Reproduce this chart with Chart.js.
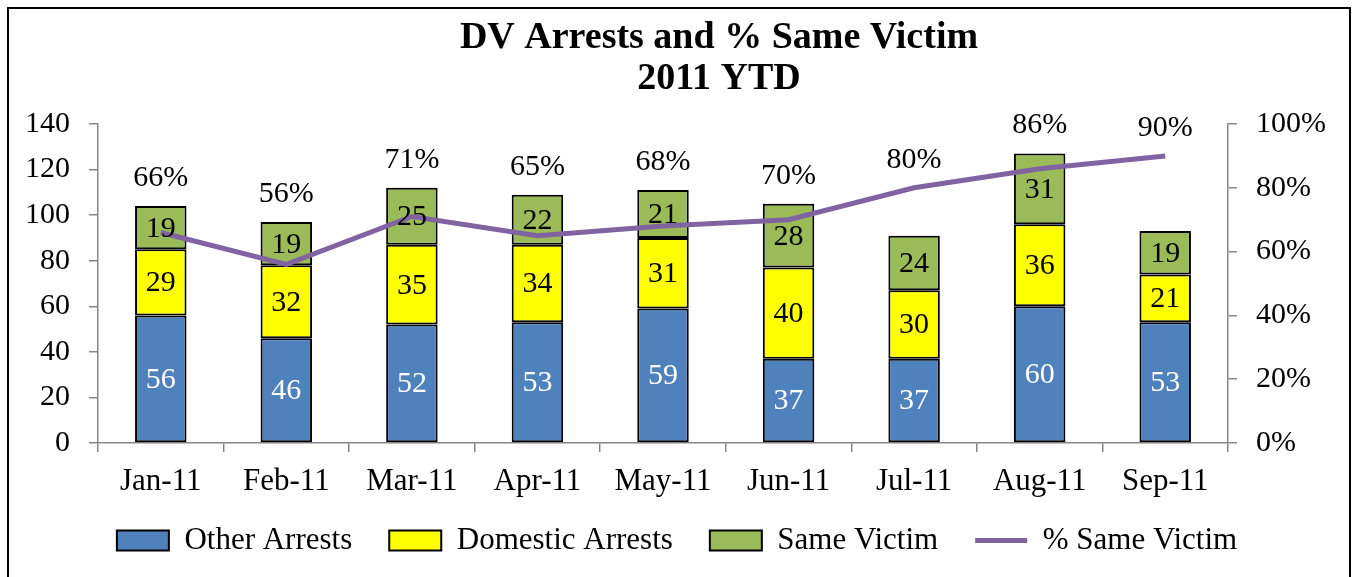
<!DOCTYPE html>
<html>
<head>
<meta charset="utf-8">
<script src="https://cdn.jsdelivr.net/npm/chart.js@4.4.1/dist/chart.umd.min.js"></script>
<style>
  html, body { margin: 0; padding: 0; background: #fff; }
  #frame { position: absolute; left: 7px; top: 7px; width: 1344px; height: 580px; box-sizing: border-box; border: 2px solid #000; }
  #c { position: absolute; left: 0; top: 0; }
</style>
</head>
<body>
<div id="frame"></div>
<canvas id="c" width="1354" height="577"></canvas>
<script>
const months = ['Jan-11', 'Feb-11', 'Mar-11', 'Apr-11', 'May-11', 'Jun-11', 'Jul-11', 'Aug-11', 'Sep-11']
const otherArrests = [56, 46, 52, 53, 59, 37, 37, 60, 53]
const domesticArrests = [29, 32, 35, 34, 31, 40, 30, 36, 21]
const sameVictim = [19, 19, 25, 22, 21, 28, 24, 31, 19]
const pctSameVictim = [0.66, 0.56, 0.71, 0.65, 0.68, 0.70, 0.80, 0.86, 0.90]
const titleLines = ['DV Arrests and % Same Victim', '2011 YTD']

const serif = "'Liberation Serif', 'Times New Roman', serif"
const gray = '#868686'

// numbers inside each bar segment, the % labels over each column, and the title
const labelPlugin = {
  id: 'labels',
  afterLayout(chart) {
    // x axis box is kept short so the legend sits high; let its labels draw below it
    chart.scales.x.bottom += 25
  },
  afterDatasetsDraw(chart) {
    const ctx = chart.ctx
    ctx.save()
    ctx.font = '30px ' + serif
    ctx.textAlign = 'center'
    ctx.textBaseline = 'middle'
    const tops = []
    for (let d = 0; d < 3; d++) {
      const meta = chart.getDatasetMeta(d)
      meta.data.forEach((bar, i) => {
        ctx.fillStyle = d === 0 ? '#fff' : '#000'
        ctx.fillText(chart.data.datasets[d].data[i], bar.x, (bar.y + bar.base) / 2 + 1)
        tops[i] = tops[i] === undefined ? bar.y : Math.min(tops[i], bar.y)
      })
    }
    const line = chart.getDatasetMeta(3)
    ctx.fillStyle = '#000'
    line.data.forEach((pt, i) => {
      const y = Math.min(tops[i], pt.y) - 28
      ctx.fillText(Math.round(pctSameVictim[i] * 100) + '%', pt.x, y)
    })
    ctx.restore()
  },
  afterDraw(chart) {
    const ctx = chart.ctx
    ctx.save()
    ctx.font = 'bold 38px ' + serif
    ctx.fillStyle = '#000'
    ctx.textAlign = 'center'
    ctx.textBaseline = 'middle'
    ctx.fillText(titleLines[0], 719, 38)
    ctx.fillText(titleLines[1], 719, 79)
    ctx.restore()
  }
}

const barStyle = { borderColor: '#000', borderWidth: 2, borderSkipped: false, order: 1,
  barPercentage: 0.41, categoryPercentage: 1 }

new Chart(document.getElementById('c'), {
  type: 'bar',
  data: {
    labels: months,
    datasets: [
      { label: 'Other Arrests', data: otherArrests, backgroundColor: '#4F81BD', ...barStyle },
      { label: 'Domestic Arrests', data: domesticArrests, backgroundColor: '#FFFF00', ...barStyle },
      { label: 'Same Victim', data: sameVictim, backgroundColor: '#9BBB59', ...barStyle },
      {
        type: 'line', label: '% Same Victim', data: pctSameVictim, yAxisID: 'y1',
        borderColor: '#8064A2', backgroundColor: '#8064A2', borderWidth: 5,
        pointRadius: 0, tension: 0, order: 0
      },
    ],
  },
  options: {
    responsive: false,
    animation: false,
    layout: { padding: { top: 124, left: 0, right: 0, bottom: 11 } },
    scales: {
      x: {
        stacked: true,
        grid: { offset: true, drawOnChartArea: false, tickLength: 9, color: gray, lineWidth: 1.5 },
        border: { color: gray, width: 1.5 },
        ticks: { color: '#000', font: { family: serif, size: 31 }, padding: 11 },
        afterFit(scale) { scale.height = 45 },
      },
      y: {
        stacked: true,
        min: 0, max: 140,
        ticks: { stepSize: 20, color: '#000', font: { family: serif, size: 30 }, padding: 19 },
        grid: { drawOnChartArea: false, tickLength: 9, color: gray, lineWidth: 1.5 },
        border: { color: gray, width: 1.5 },
        afterFit(scale) { scale.width = 98 },
      },
      y1: {
        position: 'right',
        min: 0, max: 1,
        ticks: { stepSize: 0.2, color: '#000', font: { family: serif, size: 30 }, padding: 19,
          callback: v => Math.round(v * 100) + '%' },
        grid: { drawOnChartArea: false, tickLength: 9, color: gray, lineWidth: 1.5 },
        border: { color: gray, width: 1.5 },
        afterFit(scale) { scale.width = 126 },
      },
    },
    plugins: {
      title: { display: false },
      tooltip: { enabled: false },
      legend: {
        position: 'bottom',
        labels: {
          color: '#000',
          font: { family: serif, size: 31 },
          usePointStyle: true,
          pointStyleWidth: 52,
          boxHeight: 20,
          padding: 37,
          generateLabels(chart) {
            const items = Chart.defaults.plugins.legend.labels.generateLabels(chart)
            items.sort((a, b) => a.datasetIndex - b.datasetIndex)
            items.forEach(it => {
              it.pointStyle = it.datasetIndex === 3 ? 'line' : 'rect'
            })
            return items
          },
        },
      },
    },
  },
  plugins: [labelPlugin],
})
</script>
</body>
</html>
